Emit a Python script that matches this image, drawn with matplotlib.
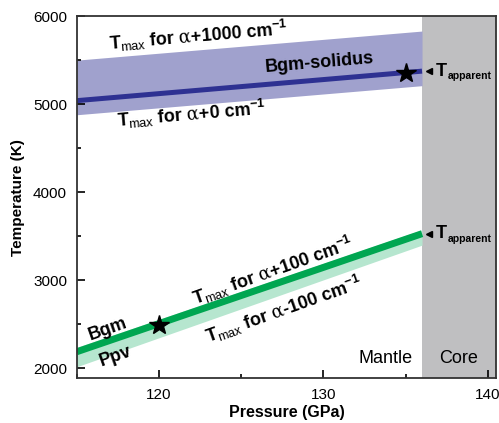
import numpy as np
import matplotlib
matplotlib.use("Agg")
import matplotlib.pyplot as plt
from matplotlib.ticker import MultipleLocator

plt.rcParams['font.family'] = ['Liberation Sans', 'DejaVu Sans']
plt.rcParams['mathtext.fontset'] = 'custom'
plt.rcParams['mathtext.rm'] = 'DejaVu Serif'
plt.rcParams['mathtext.it'] = 'Liberation Sans'
plt.rcParams['mathtext.bf'] = 'Liberation Sans:bold'
plt.rcParams['mathtext.sf'] = 'Liberation Sans:bold'

# pressure end points (GPa) and temperatures (K)
P = [115, 136]
solidus = [5040, 5375]
solidus_hi = [5500, 5830]
solidus_lo = [4880, 5210]
ppv = [2190, 3530]
ppv_hi = [2240, 3575]
ppv_lo = [2020, 3400]
cmb = 136
star_P = [135, 120]
star_T = [5350, 2490]

fig = plt.figure(figsize=(4.99, 4.23), dpi=100)
ax = fig.add_axes([0.154, 0.106, 0.840, 0.856])

ax.axvspan(cmb, 141, color="#bfbfc1", zorder=0, lw=0)
ax.fill_between(P, solidus_lo, solidus_hi, color="#a0a1cd", lw=0, zorder=1)
ax.plot(P, solidus, color="#2e3192", lw=3.6, zorder=2, solid_capstyle="butt")
ax.fill_between(P, ppv_lo, ppv_hi, color="#b6e6cf", lw=0, zorder=1)
ax.plot(P, ppv, color="#00a651", lw=5, zorder=2, solid_capstyle="butt")
ax.plot(star_P, star_T, ls="none", marker="*", ms=15, color="black", zorder=3)

# apparent temperature markers
for T in [solidus[1], ppv[1]]:
    ax.plot(cmb + 0.45, T, marker="<", ms=5, color="black", zorder=3, clip_on=False)
    ax.text(cmb + 0.85, T, "T", fontsize=13, fontweight="bold", va="center", ha="left")
    ax.text(cmb + 1.55, T - 60, "apparent", fontsize=7.5, fontweight="bold",
            va="center", ha="left")

lab_1000 = r"T$_{\mathit{max}}$ for $\mathrm{α}$+1000 cm$^{\mathsf{-1}}$"
lab_0 = r"T$_{\mathit{max}}$ for $\mathrm{α}$+0 cm$^{\mathsf{-1}}$"
lab_p100 = r"T$_{\mathit{max}}$ for $\mathrm{α}$+100 cm$^{\mathsf{-1}}$"
lab_m100 = r"T$_{\mathit{max}}$ for $\mathrm{α}$-100 cm$^{\mathsf{-1}}$"

ax.text(117, 5610, lab_1000, fontsize=13, fontweight="bold", rotation=4.8,
        rotation_mode="anchor")
ax.text(117.5, 4740, lab_0, fontsize=13, fontweight="bold", rotation=4.8,
        rotation_mode="anchor")
ax.text(126.5, 5360, "Bgm-solidus", fontsize=13, fontweight="bold", rotation=4.8,
        rotation_mode="anchor")
ax.text(122.2, 2720, lab_p100, fontsize=13, fontweight="bold", rotation=19.5,
        rotation_mode="anchor")
ax.text(123, 2290, lab_m100, fontsize=13, fontweight="bold", rotation=19.5,
        rotation_mode="anchor")
ax.text(115.8, 2320, "Bgm", fontsize=13, fontweight="bold", rotation=19.5,
        rotation_mode="anchor")
ax.text(116.5, 2030, "Ppv", fontsize=13, fontweight="bold", rotation=19.5,
        rotation_mode="anchor")
ax.text(135.4, 2060, "Mantle", fontsize=13, ha="right")
ax.text(138.2, 2060, "Core", fontsize=13, ha="center")

ax.set_xlim(115, 140.5)
ax.set_ylim(1890, 6000)
ax.xaxis.set_major_locator(MultipleLocator(10))
ax.xaxis.set_minor_locator(MultipleLocator(5))
ax.yaxis.set_major_locator(MultipleLocator(1000))
ax.yaxis.set_minor_locator(MultipleLocator(500))
ax.tick_params(which="both", direction="in", labelsize=11, top=False, right=False)
ax.tick_params(which="major", length=6, width=1.2, pad=7)
ax.tick_params(which="minor", length=3, width=1.2)
for s in ax.spines.values():
    s.set_linewidth(1.3)
    s.set_color("#333333")

ax.set_xlabel("Pressure (GPa)", fontsize=11.5, fontweight="bold", labelpad=2)
ax.set_ylabel("Temperature (K)", fontsize=11, fontweight="bold", labelpad=6)

fig.savefig("out.png", dpi=100)
